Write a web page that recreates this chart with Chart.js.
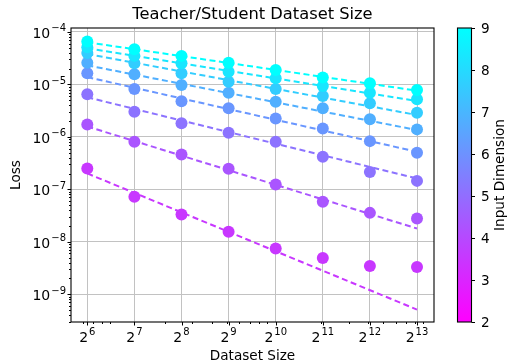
<!DOCTYPE html>
<html>
<head>
<meta charset="utf-8">
<script src="https://cdn.jsdelivr.net/npm/chart.js@4.4.0/dist/chart.umd.min.js"></script>
<style>
  html, body { margin: 0; padding: 0; background: #fff; }
  canvas { display: block; }
</style>
</head>
<body>
<canvas id="myChart" width="508" height="364"></canvas>
<script>
// dataset sizes (x) and input dimensions (one series each)
var sizes = [64, 128, 256, 512, 1024, 2048, 4096, 8192];
var dims = [9, 8, 7, 6, 5, 4, 3, 2];

// measured loss per dimension
var loss9 = [6.6e-5, 4.7e-5, 3.5e-5, 2.6e-5, 1.88e-5, 1.36e-5, 1.05e-5, 7.8e-6];
var loss8 = [5.1e-5, 3.5e-5, 2.53e-5, 1.75e-5, 1.31e-5, 9.3e-6, 6.95e-6, 5.2e-6];
var loss7 = [3.97e-5, 2.53e-5, 1.63e-5, 1.13e-5, 8.2e-6, 6.0e-6, 4.36e-6, 2.88e-6];
var loss6 = [2.6e-5, 1.56e-5, 9.7e-6, 6.95e-6, 4.68e-6, 3.5e-6, 2.16e-6, 1.39e-6];
var loss5 = [1.63e-5, 8.2e-6, 4.8e-6, 3.5e-6, 2.25e-6, 1.45e-6, 8.3e-7, 5.0e-7];
var loss4 = [6.5e-6, 3.0e-6, 1.81e-6, 1.2e-6, 8.05e-7, 4.17e-7, 2.13e-7, 1.45e-7];
var loss3 = [1.73e-6, 8.05e-7, 4.63e-7, 2.48e-7, 1.24e-7, 5.8e-8, 3.56e-8, 2.79e-8];
var loss2 = [2.5e-7, 7.2e-8, 3.32e-8, 1.55e-8, 7.45e-9, 4.93e-9, 3.47e-9, 3.32e-9];
var lossByDim = [loss9, loss8, loss7, loss6, loss5, loss4, loss3, loss2];

// power-law fit line, value at first and last dataset size
var fitStart = [6.36e-5, 4.89e-5, 3.8e-5, 2.31e-5, 1.38e-5, 5.68e-6, 1.58e-6, 2.01e-7];
var fitEnd = [7.6e-6, 4.82e-6, 2.61e-6, 1.35e-6, 5.2e-7, 1.61e-7, 1.79e-8, 5.1e-10];

// tick exponents
var xExps = [6, 7, 8, 9, 10, 11, 12, 13];
var yExps = [-9, -8, -7, -6, -5, -4];
var cbarTicks = [2, 3, 4, 5, 6, 7, 8, 9];

var colors = [
  'rgb(0,255,255)',
  'rgb(25,230,255)',
  'rgb(50,205,255)',
  'rgb(80,175,255)',
  'rgb(105,150,255)',
  'rgb(140,115,255)',
  'rgb(170,85,255)',
  'rgb(200,55,255)'
];

var FONT = '"DejaVu Sans", "Liberation Sans", sans-serif';

var datasets = [];
// points first so they are drawn on top of the dashed fits
lossByDim.forEach(function (vals, i) {
  datasets.push({
    label: 'dim ' + dims[i],
    data: sizes.map(function (s, j) { return { x: s, y: vals[j] }; }),
    showLine: false,
    pointRadius: 6,
    pointBackgroundColor: colors[i],
    pointBorderWidth: 0
  });
});
lossByDim.forEach(function (vals, i) {
  datasets.push({
    label: 'fit ' + dims[i],
    data: [{ x: sizes[0], y: fitStart[i] }, { x: sizes[sizes.length - 1], y: fitEnd[i] }],
    showLine: true,
    borderColor: colors[i],
    borderWidth: 2,
    borderDash: [6, 3.5],
    pointRadius: 0
  });
});

// base with a raised exponent, like 2^6 or 10^-4
function drawPow(ctx, base, exp, x, y, align) {
  var big = '14px ' + FONT;
  var small = '10px ' + FONT;
  ctx.font = big;
  var wb = ctx.measureText(base).width + 1;
  ctx.font = small;
  var we = ctx.measureText(exp).width;
  var x0 = align === 'right' ? x - wb - we : x - (wb + we) / 2;
  ctx.textAlign = 'left';
  ctx.textBaseline = 'alphabetic';
  ctx.font = big;
  ctx.fillText(base, x0, y);
  ctx.font = small;
  ctx.fillText(exp, x0 + wb, y - 6.6);
}

var decorations = {
  id: 'decorations',
  afterDraw: function (chart) {
    var ctx = chart.ctx;
    var a = chart.chartArea;
    var xs = chart.scales.x, ys = chart.scales.y;
    ctx.save();
    ctx.fillStyle = '#000';
    ctx.strokeStyle = '#000';

    // frame
    ctx.lineWidth = 1.1;
    ctx.strokeRect(a.left, a.top, a.right - a.left, a.bottom - a.top);

    // x ticks
    ctx.lineWidth = 1;
    ctx.beginPath();
    xExps.forEach(function (e) {
      var px = Math.round(xs.getPixelForValue(Math.pow(2, e))) + 0.5;
      ctx.moveTo(px, a.bottom); ctx.lineTo(px, a.bottom + 3.5);
    });
    for (var k = 1; k <= 4; k++) {
      for (var m = 2; m <= 9; m++) {
        var v = m * Math.pow(10, k);
        if (v < xs.min || v > xs.max) continue;
        var px = Math.round(xs.getPixelForValue(v)) + 0.5;
        ctx.moveTo(px, a.bottom); ctx.lineTo(px, a.bottom + 2);
      }
    }
    // y ticks
    yExps.forEach(function (e) {
      var py = Math.round(ys.getPixelForValue(Math.pow(10, e))) + 0.5;
      ctx.moveTo(a.left - 3.5, py); ctx.lineTo(a.left, py);
    });
    for (var k2 = -10; k2 <= -4; k2++) {
      for (var m2 = 2; m2 <= 9; m2++) {
        var v2 = m2 * Math.pow(10, k2);
        if (v2 < ys.min || v2 > ys.max) continue;
        var py2 = Math.round(ys.getPixelForValue(v2)) + 0.5;
        ctx.moveTo(a.left - 2, py2); ctx.lineTo(a.left, py2);
      }
    }
    ctx.stroke();

    // tick labels
    xExps.forEach(function (e) {
      drawPow(ctx, '2', String(e), xs.getPixelForValue(Math.pow(2, e)), a.bottom + 20, 'center');
    });
    yExps.forEach(function (e) {
      drawPow(ctx, '10', '\u2212' + Math.abs(e), a.left - 5, ys.getPixelForValue(Math.pow(10, e)) + 6, 'right');
    });

    // title and axis titles
    ctx.textAlign = 'center';
    ctx.textBaseline = 'alphabetic';
    ctx.font = '16.3px ' + FONT;
    ctx.fillText('Teacher/Student Dataset Size', (a.left + a.right) / 2, 19);
    ctx.font = '13.6px ' + FONT;
    ctx.fillText('Dataset Size', (a.left + a.right) / 2, 360);
    ctx.save();
    ctx.translate(16, (a.top + a.bottom) / 2);
    ctx.rotate(-Math.PI / 2);
    ctx.textBaseline = 'middle';
    ctx.fillText('Loss', 0, 0);
    ctx.restore();

    // colorbar
    var cl = 457.5, cr = 471.5, ct = a.top, cb = a.bottom;
    var grad = ctx.createLinearGradient(0, cb, 0, ct);
    grad.addColorStop(0, 'rgb(255,0,255)');
    grad.addColorStop(1, 'rgb(0,255,255)');
    ctx.fillStyle = grad;
    ctx.fillRect(cl, ct, cr - cl, cb - ct);
    ctx.lineWidth = 1.1;
    ctx.strokeRect(cl, ct, cr - cl, cb - ct);
    ctx.fillStyle = '#000';
    ctx.lineWidth = 1;
    ctx.beginPath();
    var lo = cbarTicks[0], hi = cbarTicks[cbarTicks.length - 1];
    ctx.font = '13.6px ' + FONT;
    ctx.textAlign = 'left';
    ctx.textBaseline = 'middle';
    cbarTicks.forEach(function (d) {
      var py = Math.round(cb - (d - lo) / (hi - lo) * (cb - ct)) + 0.5;
      ctx.moveTo(cr, py); ctx.lineTo(cr + 3.5, py);
      ctx.fillText(String(d), cr + 9.5, py + 0.5);
    });
    ctx.stroke();
    ctx.save();
    ctx.translate(500, (ct + cb) / 2);
    ctx.rotate(-Math.PI / 2);
    ctx.textAlign = 'center';
    ctx.fillText('Input Dimension', 0, 0);
    ctx.restore();

    ctx.restore();
  }
};

var myChart = new Chart(document.getElementById('myChart').getContext('2d'), {
  type: 'scatter',
  data: { datasets: datasets },
  options: {
    responsive: false,
    devicePixelRatio: 1,
    animation: false,
    layout: { padding: { left: 71, right: 74, top: 28, bottom: 42 } },
    plugins: {
      legend: { display: false },
      tooltip: { enabled: false },
      title: { display: false }
    },
    scales: {
      x: {
        type: 'logarithmic',
        min: 50.35,
        max: 10520,
        afterBuildTicks: function (s) {
          s.ticks = xExps.map(function (e) { return { value: Math.pow(2, e) }; });
        },
        afterFit: function (s) { s.height = 0; },
        ticks: { display: false },
        grid: { color: '#c2c2c2', lineWidth: 1, drawTicks: false },
        border: { display: false }
      },
      y: {
        type: 'logarithmic',
        min: 2.96e-10,
        max: 1.19e-4,
        afterBuildTicks: function (s) {
          s.ticks = yExps.map(function (e) { return { value: Math.pow(10, e) }; });
        },
        afterFit: function (s) { s.width = 0; },
        ticks: { display: false },
        grid: { color: '#c2c2c2', lineWidth: 1, drawTicks: false },
        border: { display: false }
      }
    }
  },
  plugins: [decorations]
});
</script>
</body>
</html>
